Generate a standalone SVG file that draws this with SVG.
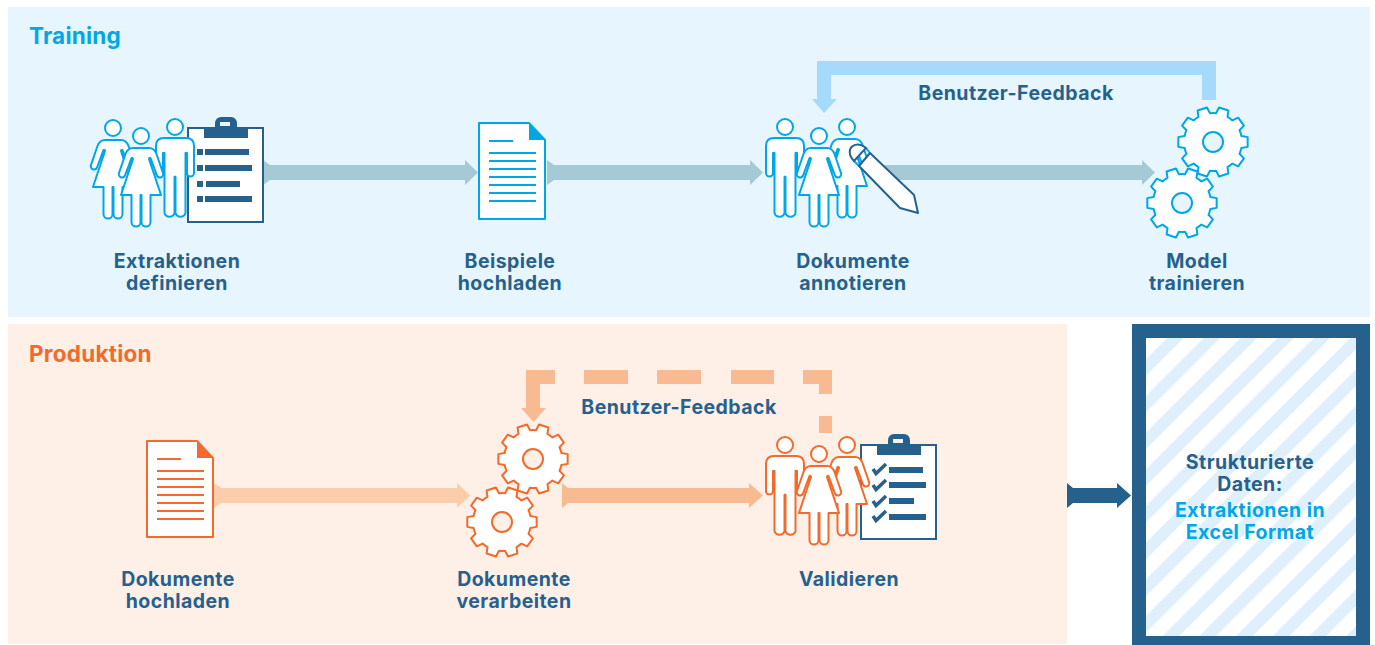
<svg xmlns="http://www.w3.org/2000/svg" width="1375" height="645" viewBox="0 0 1375 645">
<style>
text{font-family:"Inter","Liberation Sans",sans-serif;font-weight:700;font-size:19.5px;letter-spacing:.45px;fill:#26618d;text-anchor:middle}
.title{font-size:22.5px;letter-spacing:.25px;text-anchor:start}
.b{color:#00a7e7;--bg:#e6f5fe}
.o{color:#f26a2c;--bg:#fef0e7}
.fig{fill:#fff;stroke:currentColor;stroke-width:2;stroke-linejoin:round}
.hole{fill:var(--bg);stroke:currentColor;stroke-width:2}
.dk{fill:#26618d}
.clip{fill:#fff;stroke:#26618d;stroke-width:2}
</style>
<defs>
<g id="man"><circle class="fig" cy="0" r="8"/><path class="fig" d="M-11,11H11C16,11 19,14 19,19V46A3.5,3.5 0 0 1 12,46V26A1,1 0 0 0 10.5,26V86A5.2,5.2 0 0 1 .5,86V50A.5,.5 0 0 0 -.5,50V86A5.2,5.2 0 0 1 -10.5,86V26A1,1 0 0 0 -12,26V46A3.5,3.5 0 0 1 -19,46V19C-19,14 -16,11 -11,11Z"/></g>
<g id="woman"><circle class="fig" cy="0" r="8"/><path class="fig" d="M-8,12H8C12,12 14,14 15.5,18L22,37A3.2,3.2 0 0 1 16,39.500L9.500,22A1,1 0 0 0 8,23L20,59H9.500V86A4.500,4.500 0 0 1 .5,86V59H-.5V86A4.500,4.500 0 0 1 -9.500,86V59H-20L-8,23A1,1 0 0 0 -9.500,22L-16,39.500A3.200,3.200 0 0 1 -22,37L-15.500,18C-14,14 -12,12 -8,12Z"/></g>
<g id="gear"><path class="fig" d="M34.66,4.87L28.37,6.03A29,29 0 0 1 26.49,11.8L30.9,16.43L25.18,24.31L19.4,21.55A29,29 0 0 1 14.5,25.11L15.34,31.46L6.08,34.47L3.03,28.84A29,29 0 0 1 -3.03,28.84L-6.08,34.47L-15.34,31.46L-14.5,25.11A29,29 0 0 1 -19.4,21.55L-25.18,24.31L-30.9,16.43L-26.49,11.8A29,29 0 0 1 -28.37,6.03L-34.66,4.87L-34.66,-4.87L-28.37,-6.03A29,29 0 0 1 -26.49,-11.8L-30.9,-16.43L-25.18,-24.31L-19.4,-21.55A29,29 0 0 1 -14.5,-25.11L-15.34,-31.46L-6.08,-34.47L-3.03,-28.84A29,29 0 0 1 3.03,-28.84L6.08,-34.47L15.34,-31.46L14.5,-25.11A29,29 0 0 1 19.4,-21.55L25.18,-24.31L30.9,-16.43L26.49,-11.8A29,29 0 0 1 28.37,-6.03L34.66,-4.87Z"/><circle class="hole" r="10"/></g>
<g id="doc"><path class="fig" d="M0,0H50L66,17V96H0Z"/><path d="M50,0L66,17H50Z" fill="currentColor"/><path d="M10,18H34M10,30H57M10,38H57M10,46H57M10,54H57M10,62H57M10,70H57M10,78H57" fill="none" stroke="currentColor" stroke-width="2"/></g>
<g id="board"><rect class="clip" width="75" height="94"/><rect class="dk" x="16" width="44" height="10"/><path class="dk" d="M27,0V-5A6,6 0 0 1 33,-11H43A6,6 0 0 1 49,-5V0ZM32,-2H42V-6H32Z" fill-rule="evenodd"/></g>
<pattern id="stripes" patternUnits="userSpaceOnUse" width="25.950" height="36" patternTransform="rotate(45)"><rect width="25.950" height="36" fill="#fff"/><rect x="0.250" width="11.800" height="36" fill="#dff0fc"/></pattern>
</defs>
<g id="panels">
<rect x="8" y="7" width="1362" height="310" fill="#e6f5fe"/>
<rect x="8" y="324" width="1059" height="320" fill="#fef0e7"/>
</g>
<g id="connectors">
<g fill="#a6c9d6">
<path d="M263,160L270,165H465V160L478,172.500L465,185V180H270L263,185Z"/>
<path d="M547,160L554,165H750V160L763,172.500L750,185V180H554L547,185Z"/>
<path d="M885,165H1142V160L1155,172.500L1142,185V180H885Z"/>
</g>
<path d="M817,61H1216V100H1202V75H831V99H837L824,113L812,99H817Z" fill="#a5dafa"/>
<path d="M214,483L221,488H457V483L470,495.500L457,508V503H221L214,508Z" fill="#fbcdaa"/>
<path d="M562,483L568,488H749V483L763,495.500L749,508V503H568L562,508Z" fill="#f8ba90"/>
<g fill="#f8ba90">
<path d="M526,370H555V384H540V408H546L533.500,422L521,408H526Z"/>
<rect x="584" y="370" width="44" height="14"/><rect x="657" y="370" width="44" height="14"/><rect x="731" y="370" width="43" height="14"/>
<path d="M803,370H832V394H819V384H803Z"/>
<rect x="819" y="416" width="13" height="17"/>
</g>
<path d="M1067,483L1073,488H1117V483L1131,495.500L1117,508V503H1073L1067,508Z" fill="#26618d"/>
</g>
<g id="titles"><text class="title" x="29" y="44" style="fill:#00a7e7">Training</text><text class="title" x="29" y="362" style="fill:#f26a2c">Produktion</text></g>
<g id="n-extraktionen" class="b">
<use href="#woman" x="113" y="128"/>
<use href="#board" x="188" y="128"/>
<path class="dk" d="M197,149h6v6h-6zM205,149h44v6h-44zM197,165h6v6h-6zM205,165h47v6h-47zM197,181h6v6h-6zM206,181h34v6h-34zM197,196h6v6h-6zM205,196h47v6h-47z"/>
<use href="#man" x="175" y="127"/>
<use href="#woman" x="141" y="136"/>
<text x="177" y="268">Extraktionen<tspan x="177" dy="22">definieren</tspan></text>
</g>
<g id="n-beispiele" class="b">
<use href="#doc" x="479" y="123"/>
<text x="510" y="268">Beispiele<tspan x="510" dy="22">hochladen</tspan></text>
</g>
<g id="n-annotieren" class="b">
<use href="#woman" x="847" y="127"/>
<use href="#man" x="785" y="127"/>
<use href="#woman" x="819" y="136"/>
<path d="M866,148L870,153M854,161L859,166" stroke="#00a7e7" stroke-width="2" fill="none"/>
<path d="M859,166L870,153L914,195L918,213L900,208Z" fill="#fff" stroke="#26618d" stroke-width="2" stroke-linejoin="round"/>
<path d="M854,161C848,155 849,148 853,146C857,143 862,145 866,148Z" fill="#fff" stroke="#26618d" stroke-width="2"/>
<text x="853" y="268">Dokumente<tspan x="853" dy="22">annotieren</tspan></text>
</g>
<g id="n-model" class="b">
<use href="#gear" x="1213" y="142"/>
<use href="#gear" x="1182" y="203"/>
<text x="1197" y="268">Model<tspan x="1197" dy="22">trainieren</tspan></text>
</g>
<text x="1016" y="100">Benutzer-Feedback</text>
<g id="n-hochladen" class="o">
<use href="#doc" x="147" y="441"/>
<text x="178" y="585.500">Dokumente<tspan x="178" dy="22">hochladen</tspan></text>
</g>
<g id="n-verarbeiten" class="o">
<use href="#gear" x="533" y="459"/>
<use href="#gear" x="502" y="522"/>
<text x="514" y="585.500">Dokumente<tspan x="514" dy="22">verarbeiten</tspan></text>
</g>
<text x="679" y="414">Benutzer-Feedback</text>
<g id="n-validieren" class="o">
<use href="#board" x="861" y="445"/>
<g fill="none" stroke="#26618d" stroke-width="3.500"><path d="M873,469l3,4.500l10,-9.500M873,485l3,4.500l10,-9.500M873,501l3,4.500l10,-9.500M873,516l3,4.500l10,-9.500"/></g>
<path class="dk" d="M889,467h34v6h-34zM889,482h37v6h-37zM889,498h25v6h-25zM889,514h37v6h-37z"/>
<use href="#woman" x="847" y="445"/>
<use href="#man" x="785" y="445"/>
<use href="#woman" x="819" y="454"/>
<text x="849" y="586">Validieren</text>
</g>
<g id="n-output">
<rect x="1139" y="331" width="224" height="312" fill="url(#stripes)" stroke="#26618d" stroke-width="14"/>
<text x="1250" y="468.500">Strukturierte<tspan x="1250" dy="22">Daten:</tspan></text>
<text x="1250" y="516.500" style="fill:#00a7e7">Extraktionen in<tspan x="1250" dy="22">Excel Format</tspan></text>
</g>
</svg>
